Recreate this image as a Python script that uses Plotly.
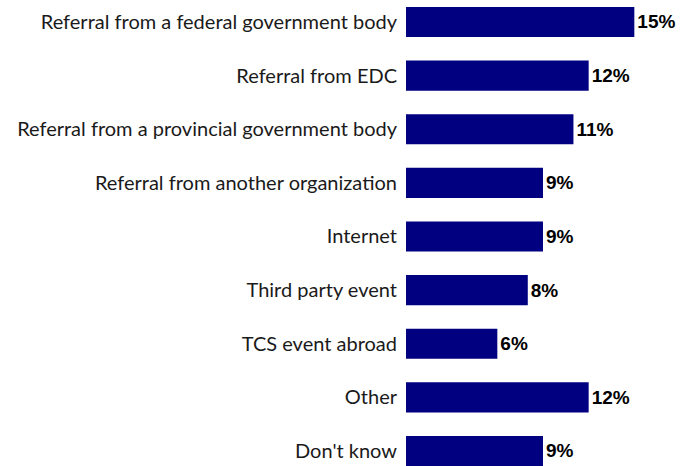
import plotly.graph_objects as go

categories = [
    "Referral from a federal government body",
    "Referral from EDC",
    "Referral from a provincial government body",
    "Referral from another organization",
    "Internet",
    "Third party event",
    "TCS event abroad",
    "Other",
    "Don't know",
]
values = [15, 12, 11, 9, 9, 8, 6, 12, 9]
labels = [f"{v}%" for v in values]

fig = go.Figure(
    go.Bar(
        x=values,
        y=categories,
        orientation="h",
        marker=dict(color="#000080", line=dict(width=0)),
        text=labels,
        textposition="outside",
        constraintext="none",
        textfont=dict(family="Liberation Sans", size=19, color="black", weight="bold"),
        cliponaxis=False,
    )
)

fig.update_layout(
    width=683,
    height=466,
    margin=dict(l=406, r=3, t=0, b=0),
    paper_bgcolor="white",
    plot_bgcolor="white",
    bargap=0.44,
    showlegend=False,
    xaxis=dict(range=[0, 18], visible=False, showgrid=False, zeroline=False),
    yaxis=dict(
        type="category",
        categoryorder="array",
        categoryarray=categories,
        range=[8.28, -0.41],
        showgrid=False,
        zeroline=False,
        showline=False,
        ticks="",
        ticklabelstandoff=8,
        tickfont=dict(family="Lato", size=20, color="#1a1a1a"),
    ),
)

fig.write_html("out.html")
